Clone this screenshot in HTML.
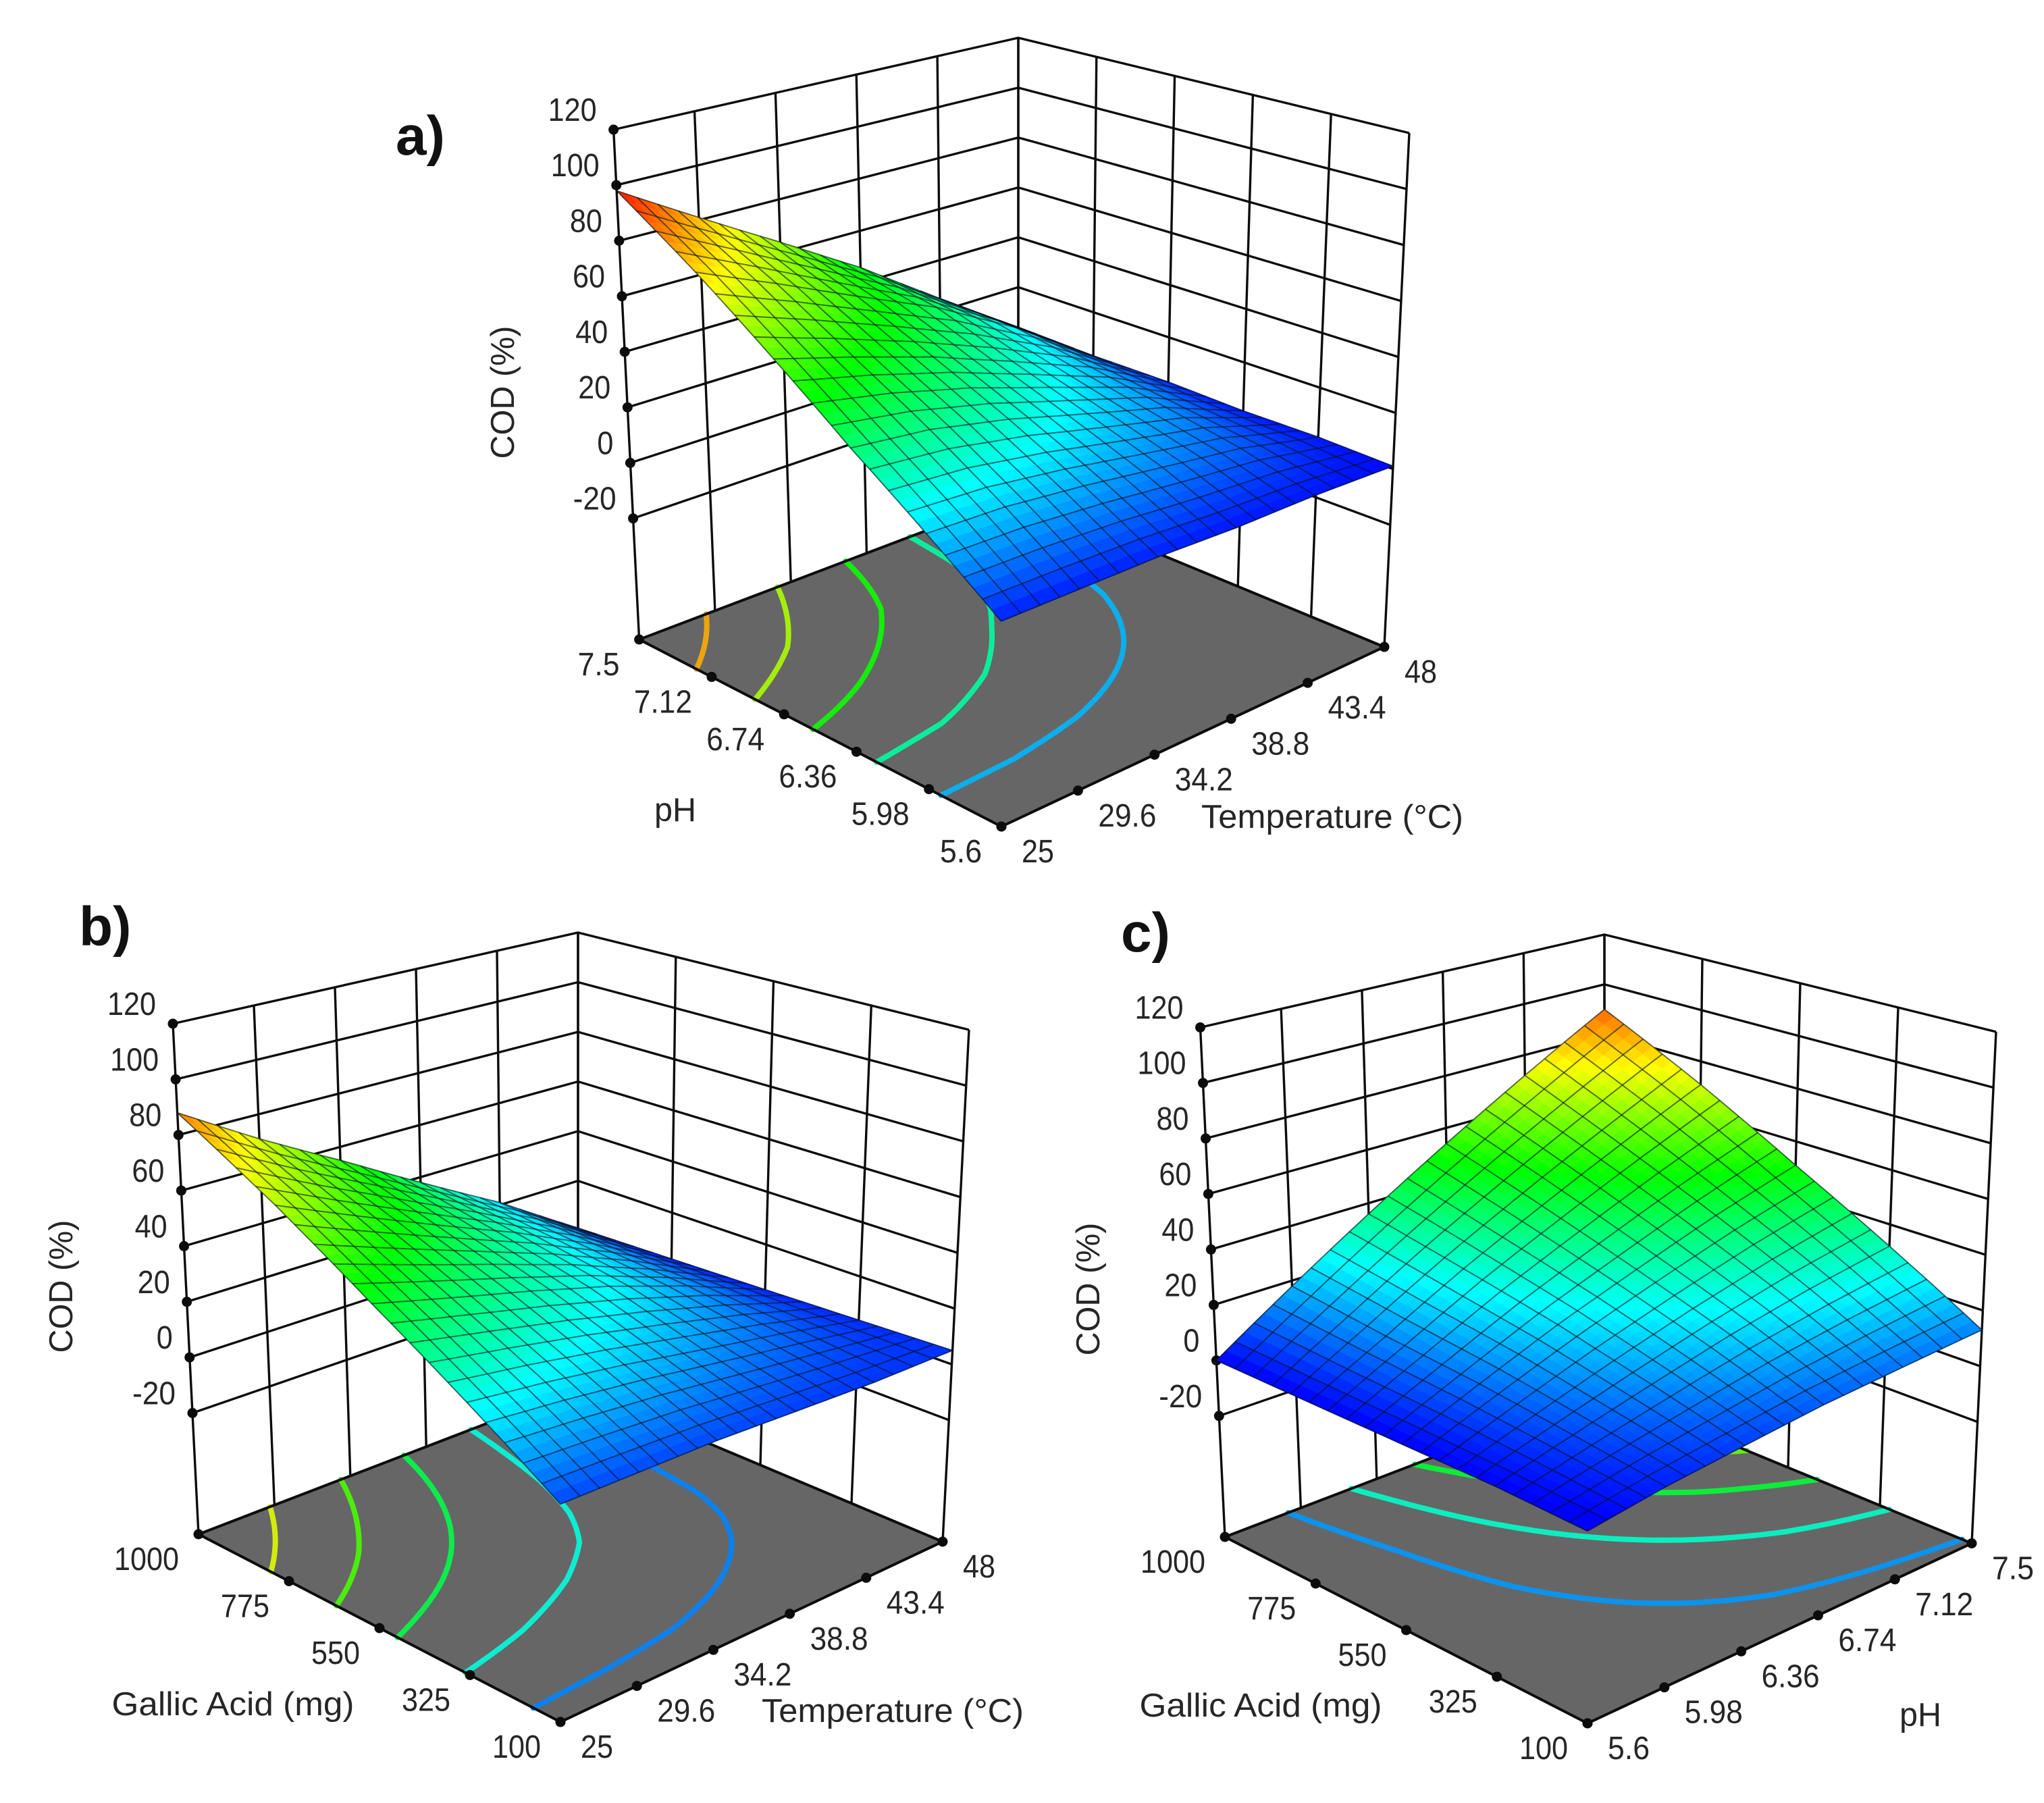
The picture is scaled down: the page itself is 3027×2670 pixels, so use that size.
<!DOCTYPE html>
<html lang="en">
<head>
<meta charset="utf-8">
<title>COD response surfaces</title>
<style>
html,body{margin:0;padding:0;background:#fff;width:3027px;height:2670px;overflow:hidden}
svg{display:block}
text{font-family:"Liberation Sans",sans-serif;fill:#262626}
.lbl{font-size:48px}
.ttl{font-size:49px}
.pan{font-size:82px;font-weight:bold;fill:#111}
</style>
</head>
<body>
<svg id="figure" xmlns="http://www.w3.org/2000/svg" width="3027" height="2670" viewBox="0 0 3027 2670">
  <rect x="0" y="0" width="3027" height="2670" fill="#fff"/>
  <g id="panel-a"></g>
  <g id="panel-b"></g>
  <g id="panel-c"></g>

  <text class="pan" x="586" y="229">a)</text>
  <text class="pan" x="117" y="1400">b)</text>
  <text class="pan" x="1660" y="1409">c)</text>

  <text class="ttl" text-anchor="middle" textLength="197" lengthAdjust="spacingAndGlyphs" transform="translate(761,581) rotate(-90)">COD (%)</text>
  <text class="ttl" text-anchor="middle" textLength="197" lengthAdjust="spacingAndGlyphs" transform="translate(107,1905) rotate(-90)">COD (%)</text>
  <text class="ttl" text-anchor="middle" textLength="197" lengthAdjust="spacingAndGlyphs" transform="translate(1628,1909) rotate(-90)">COD (%)</text>

  <text class="ttl" text-anchor="middle" textLength="62" lengthAdjust="spacingAndGlyphs" x="1000" y="1216">pH</text>
  <text class="ttl" text-anchor="middle" textLength="388" lengthAdjust="spacingAndGlyphs" x="1973" y="1226">Temperature (°C)</text>

  <text class="ttl" text-anchor="middle" textLength="359" lengthAdjust="spacingAndGlyphs" x="345" y="2540">Gallic Acid (mg)</text>
  <text class="ttl" text-anchor="middle" textLength="388" lengthAdjust="spacingAndGlyphs" x="1322" y="2550">Temperature (°C)</text>

  <text class="ttl" text-anchor="middle" textLength="359" lengthAdjust="spacingAndGlyphs" x="1867" y="2542">Gallic Acid (mg)</text>
  <text class="ttl" text-anchor="middle" textLength="62" lengthAdjust="spacingAndGlyphs" x="2844" y="2556">pH</text>
</svg>

<script>
// ---- axis values ----
const zTicks = [120, 100, 80, 60, 40, 20, 0, -20];
const temperatureTicks = [25, 29.6, 34.2, 38.8, 43.4, 48];
const phTicksDescending = [7.5, 7.12, 6.74, 6.36, 5.98, 5.6];
const phTicksAscending = [5.6, 5.98, 6.36, 6.74, 7.12, 7.5];
const gallicTicks = [1000, 775, 550, 325, 100];

// ---- surface values (COD %) read at the axis tick positions ----
// rows follow the left-to-front floor axis, columns the front-to-right floor axis
const surfaceA = [
  [98, 81, 64, 46, 25, 4],
  [79, 67, 54, 41, 24, 3],
  [59, 51, 42, 31, 19, 3],
  [39, 36, 30, 22, 14, 2],
  [21, 20, 17, 13, 9, 2],
  [3, 3, 3, 2, 2, 1]
];
const surfaceB = [
  [88, 71, 55, 38, 21, 1],
  [68, 56, 44, 32, 18, 2],
  [47, 40, 33, 25, 15, 3],
  [27, 24, 20, 15, 10, 4],
  [7, 7, 7, 6, 5, 5]
];
const surfaceC = [
  [0, 18, 36, 54, 72, 90],
  [0, 14, 29, 43, 57, 71],
  [0, 11, 22, 32, 42, 51],
  [0, 7, 14, 21, 27, 32],
  [-1, 3, 6, 9, 11, 13]
];

// ---- floor contour levels ----
const contourLevelsA = [18, 34, 51, 67, 83];
const contourLevelsB = [13, 28, 43, 57, 72];
const contourLevelsC = [15, 30, 45, 60, 75];

// ---- layout ----
const Z_FLOOR = -63.6;
const Z_TOP = 120;
const MESH_CELLS = 20;
const FILL_PER_MESH = 2;
const CONTOUR_RES = 60;
const SVG_NS = 'http://www.w3.org/2000/svg';

const panels = [
  { key: 'a', aTicks: phTicksDescending, bTicks: temperatureTicks, surface: surfaceA, levels: contourLevelsA,
    floor: { L: [946.6, 947], F: [1483, 1224], R: [2050, 958], B: [1508, 734] },
    top: { L: [908.6, 192], F: [1482, 386], R: [2087, 197], B: [1508, 56] } },
  { key: 'b', aTicks: gallicTicks, bTicks: temperatureTicks, surface: surfaceB, levels: contourLevelsB,
    floor: { L: [294, 2272], F: [830, 2550], R: [1396, 2283], B: [856, 2056] },
    top: { L: [256, 1516], F: [830, 1711], R: [1435, 1525], B: [856, 1381] } },
  { key: 'c', aTicks: gallicTicks, bTicks: phTicksAscending, surface: surfaceC, levels: contourLevelsC,
    floor: { L: [1814, 2276], F: [2351, 2552], R: [2920, 2285.5], B: [2376, 2061] },
    top: { L: [1777.5, 1521.5], F: [2351, 1717], R: [2956, 1528], B: [2376, 1384] } }
];

// ---- scales ----
function zToW(z) { return (z - Z_FLOOR) / (Z_TOP - Z_FLOOR); }
function tickScale(ticks, v) { return (v - ticks[0]) / (ticks[ticks.length - 1] - ticks[0]); }
function bilin(q, a, b) {
  return [0, 1].map(function (i) {
    return q.L[i] * (1 - a) * (1 - b) + q.F[i] * a * (1 - b) + q.R[i] * a * b + q.B[i] * (1 - a) * b;
  });
}
function project(p, a, b, w) {
  const f = bilin(p.floor, a, b);
  const t = bilin(p.top, a, b);
  return [f[0] + (t[0] - f[0]) * w, f[1] + (t[1] - f[1]) * w];
}
function surfaceZ(m, a, b) {
  const rows = m.length - 1, cols = m[0].length - 1;
  const r = Math.min(a * rows, rows - 1e-9), c = Math.min(b * cols, cols - 1e-9);
  const r0 = Math.floor(r), c0 = Math.floor(c), fr = r - r0, fc = c - c0;
  return m[r0][c0] * (1 - fr) * (1 - fc) + m[r0 + 1][c0] * fr * (1 - fc) +
         m[r0 + 1][c0 + 1] * fr * fc + m[r0][c0 + 1] * (1 - fr) * fc;
}
const colorStops = [[0, 0, 0, 255], [25, 0, 255, 255], [50, 0, 255, 0], [75, 255, 255, 0], [100, 255, 0, 0]];
function rgbOf(z) {
  if (z <= colorStops[0][0]) return [0, 0, 255];
  for (let i = 1; i < colorStops.length; i++) {
    if (z <= colorStops[i][0]) {
      const s = colorStops[i - 1], e = colorStops[i], t = (z - s[0]) / (e[0] - s[0]);
      return [s[1] + (e[1] - s[1]) * t, s[2] + (e[2] - s[2]) * t, s[3] + (e[3] - s[3]) * t];
    }
  }
  return [255, 0, 0];
}
function colorOf(z) {
  const c = rgbOf(z);
  return 'rgb(' + Math.round(c[0]) + ',' + Math.round(c[1]) + ',' + Math.round(c[2]) + ')';
}
function contourColorOf(z) {
  const c = rgbOf(z).map(function (v) { return Math.round(v * 0.88 + 102 * 0.12); });
  return 'rgb(' + c[0] + ',' + c[1] + ',' + c[2] + ')';
}
function labelWidth(s) {
  let w = 0;
  for (const ch of s) { w += ch === '.' ? 14 : (ch === '-' ? 16 : 24); }
  return w;
}
function pts(list) { return list.map(function (q) { return q[0].toFixed(1) + ',' + q[1].toFixed(1); }).join(' '); }
function make(tag) { return document.createElementNS(SVG_NS, tag); }

function drawPanel(p) {
  const g = document.getElementById('panel-' + p.key);

  // walls: horizontal grid at each z tick
  zTicks.forEach(function (z) {
    const w = zToW(z);
    const line = make('polyline');
    
    
    line.setAttribute('points', pts([project(p, 0, 0, w), project(p, 0, 1, w), project(p, 1, 1, w)]));
    line.setAttribute('fill', 'none');
    line.setAttribute('stroke', '#0c0c0c');
    line.setAttribute('stroke-width', '3.4');
    g.appendChild(line);
  });
  // walls: verticals on the left-back wall
  p.bTicks.forEach(function (v) {
    const b = tickScale(p.bTicks, v);
    const line = make('polyline');
    
    
    line.setAttribute('points', pts([project(p, 0, b, 0), project(p, 0, b, 1)]));
    line.setAttribute('fill', 'none');
    line.setAttribute('stroke', '#0c0c0c');
    line.setAttribute('stroke-width', '3.4');
    g.appendChild(line);
  });
  // walls: verticals on the back-right wall
  p.aTicks.forEach(function (v) {
    const a = tickScale(p.aTicks, v);
    const line = make('polyline');
    
    
    line.setAttribute('points', pts([project(p, a, 1, 0), project(p, a, 1, 1)]));
    line.setAttribute('fill', 'none');
    line.setAttribute('stroke', '#0c0c0c');
    line.setAttribute('stroke-width', '3.4');
    g.appendChild(line);
  });

  // floor
  const floor = make('polygon');
  
  
  floor.setAttribute('points', pts([project(p, 0, 0, 0), project(p, 1, 0, 0), project(p, 1, 1, 0), project(p, 0, 1, 0)]));
  floor.setAttribute('fill', '#666666');
  g.appendChild(floor);

  // contours on the floor
  p.levels.forEach(function (level) {
    let d = '';
    const n = CONTOUR_RES;
    for (let i = 0; i < n; i++) {
      for (let j = 0; j < n; j++) {
        const a0 = i / n, a1 = (i + 1) / n, b0 = j / n, b1 = (j + 1) / n;
        const c = [[a0, b0], [a1, b0], [a1, b1], [a0, b1]];
        const v = c.map(function (q) { return surfaceZ(p.surface, q[0], q[1]); });
        const hits = [];
        for (let k = 0; k < 4; k++) {
          const m = (k + 1) % 4;
          if ((v[k] < level) !== (v[m] < level)) {
            const t = (level - v[k]) / (v[m] - v[k]);
            hits.push([c[k][0] + (c[m][0] - c[k][0]) * t, c[k][1] + (c[m][1] - c[k][1]) * t]);
          }
        }
        if (hits.length >= 2) {
          const s = project(p, hits[0][0], hits[0][1], 0);
          const e = project(p, hits[1][0], hits[1][1], 0);
          d += 'M' + s[0].toFixed(1) + ' ' + s[1].toFixed(1) + 'L' + e[0].toFixed(1) + ' ' + e[1].toFixed(1);
        }
      }
    }
    const path = make('path');
    
    
    path.setAttribute('d', d);
    path.setAttribute('fill', 'none');
    path.setAttribute('stroke', contourColorOf(level));
    path.setAttribute('stroke-width', '8');
    path.setAttribute('stroke-linecap', 'round');
    g.appendChild(path);
  });

  // floor outline above the contours
  const outline = make('polygon');
  
  
  outline.setAttribute('points', pts([project(p, 0, 0, 0), project(p, 1, 0, 0), project(p, 1, 1, 0), project(p, 0, 1, 0)]));
  outline.setAttribute('fill', 'none');
  outline.setAttribute('stroke', '#0c0c0c');
  outline.setAttribute('stroke-width', '4');
  g.appendChild(outline);

  // z axis ticks and labels
  zTicks.forEach(function (z) {
    const q = project(p, 0, 0, zToW(z));
    const dot = make('circle');
    
    
    dot.setAttribute('cx', q[0].toFixed(1));
    dot.setAttribute('cy', q[1].toFixed(1));
    dot.setAttribute('r', '7.5');
    dot.setAttribute('fill', '#0c0c0c');
    g.appendChild(dot);
    const t = make('text');
    
    
    t.setAttribute('class', 'lbl');
    t.setAttribute('text-anchor', 'end');
    t.setAttribute('textLength', String(labelWidth(String(z))));
    t.setAttribute('lengthAdjust', 'spacingAndGlyphs');
    t.setAttribute('x', (q[0] - 25).toFixed(1));
    t.setAttribute('y', (q[1] - 13).toFixed(1));
    t.textContent = String(z);
    g.appendChild(t);
  });
  // left-to-front floor axis
  p.aTicks.forEach(function (v) {
    const q = project(p, tickScale(p.aTicks, v), 0, 0);
    const dot = make('circle');
    
    
    dot.setAttribute('cx', q[0].toFixed(1));
    dot.setAttribute('cy', q[1].toFixed(1));
    dot.setAttribute('r', '7.5');
    dot.setAttribute('fill', '#0c0c0c');
    g.appendChild(dot);
    const t = make('text');
    
    
    t.setAttribute('class', 'lbl');
    t.setAttribute('text-anchor', 'end');
    t.setAttribute('textLength', String(labelWidth(String(v))));
    t.setAttribute('lengthAdjust', 'spacingAndGlyphs');
    t.setAttribute('x', (q[0] - 29).toFixed(1));
    t.setAttribute('y', (q[1] + 53).toFixed(1));
    t.textContent = String(v);
    g.appendChild(t);
  });
  // front-to-right floor axis
  p.bTicks.forEach(function (v) {
    const q = project(p, 1, tickScale(p.bTicks, v), 0);
    const dot = make('circle');
    
    
    dot.setAttribute('cx', q[0].toFixed(1));
    dot.setAttribute('cy', q[1].toFixed(1));
    dot.setAttribute('r', '7.5');
    dot.setAttribute('fill', '#0c0c0c');
    g.appendChild(dot);
    const t = make('text');
    
    
    t.setAttribute('class', 'lbl');
    t.setAttribute('text-anchor', 'start');
    t.setAttribute('textLength', String(labelWidth(String(v))));
    t.setAttribute('lengthAdjust', 'spacingAndGlyphs');
    t.setAttribute('x', (q[0] + 30).toFixed(1));
    t.setAttribute('y', (q[1] + 53).toFixed(1));
    t.textContent = String(v);
    g.appendChild(t);
  });

  // surface fill: back corner first, front corner last
  const N = MESH_CELLS * FILL_PER_MESH;
  const surfaceGroup = make('g');
  
  
  g.appendChild(surfaceGroup);
  for (let i = 0; i < N; i++) {
    for (let j = N - 1; j >= 0; j--) {
      const a0 = i / N, a1 = (i + 1) / N, b0 = j / N, b1 = (j + 1) / N;
      const corners = [[a0, b0], [a1, b0], [a1, b1], [a0, b1]];
      const poly = corners.map(function (c) { return project(p, c[0], c[1], zToW(surfaceZ(p.surface, c[0], c[1]))); });
      const col = colorOf(surfaceZ(p.surface, (a0 + a1) / 2, (b0 + b1) / 2));
      const cell = make('polygon');
      
      
      cell.setAttribute('points', pts(poly));
      cell.setAttribute('fill', col);
      cell.setAttribute('stroke', col);
      cell.setAttribute('stroke-width', '0.8');
      surfaceGroup.appendChild(cell);
    }
  }
  // mesh lines
  for (let i = 0; i <= MESH_CELLS; i++) {
    const listA = [], listB = [];
    const fixed = i / MESH_CELLS;
    for (let j = 0; j <= MESH_CELLS; j++) {
      const t = j / MESH_CELLS;
      listA.push(project(p, fixed, t, zToW(surfaceZ(p.surface, fixed, t))));
      listB.push(project(p, t, fixed, zToW(surfaceZ(p.surface, t, fixed))));
    }
    const m1 = make('polyline');
    
    
    m1.setAttribute('points', pts(listA));
    m1.setAttribute('fill', 'none');
    m1.setAttribute('stroke', '#04101a');
    m1.setAttribute('stroke-opacity', '0.6');
    m1.setAttribute('stroke-width', '1.9');
    surfaceGroup.appendChild(m1);
    const m2 = make('polyline');
    
    
    m2.setAttribute('points', pts(listB));
    m2.setAttribute('fill', 'none');
    m2.setAttribute('stroke', '#04101a');
    m2.setAttribute('stroke-opacity', '0.6');
    m2.setAttribute('stroke-width', '1.9');
    surfaceGroup.appendChild(m2);
  }
}
panels.forEach(drawPanel);
</script>
</body>
</html>
